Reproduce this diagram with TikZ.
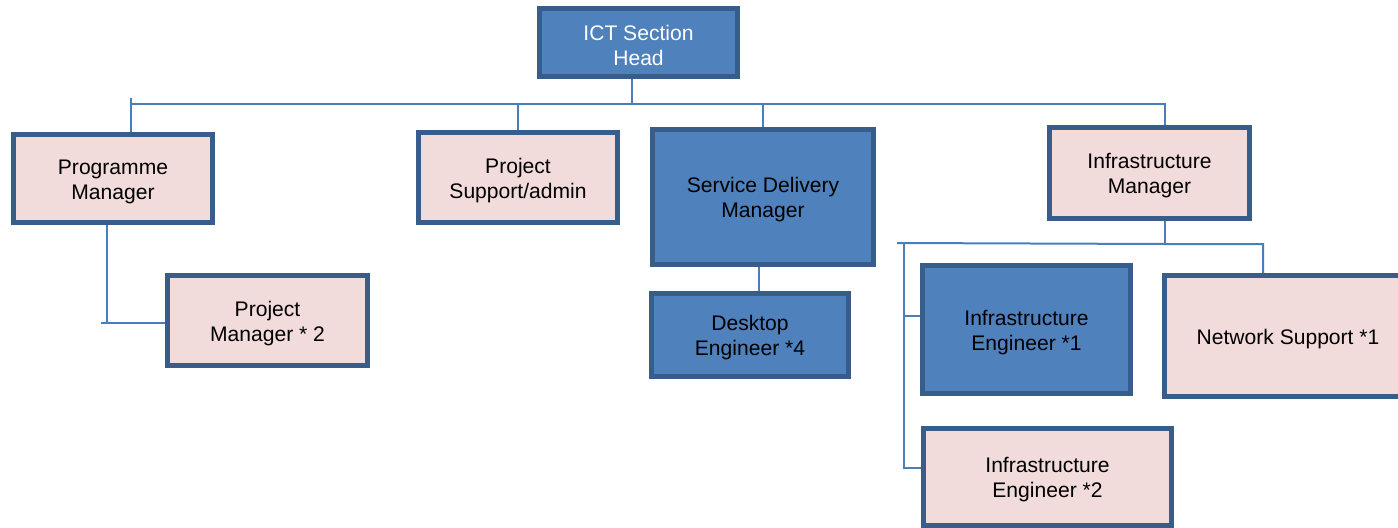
\documentclass[tikz,border=0pt]{standalone}
\usepackage{fontspec}
\setmainfont{Liberation Sans}
\usetikzlibrary{positioning}

\definecolor{boxblue}{HTML}{4F81BD}
\definecolor{boxpink}{HTML}{F2DCDB}
\definecolor{edgeblue}{HTML}{385D8A}
\definecolor{linkblue}{HTML}{4A7EBB}

\begin{document}
\begin{tikzpicture}[
  x=0.02cm, y=-0.02cm,
  font=\fontsize{12pt}{14.2pt}\selectfont,
  unit/.style={draw=edgeblue, line width=0.1cm, align=center, inner sep=2pt, text height=#1},
  unit/.default=26.3pt,
  bluebox/.style={unit=#1, fill=boxblue},
  bluebox/.default=26.3pt,
  pinkbox/.style={unit=#1, fill=boxpink},
  pinkbox/.default=26.3pt,
  link/.style={draw=linkblue, line width=0.04cm}
]
\useasboundingbox (0,0) rectangle (1398,527);
\clip (0,0) rectangle (1398,527);
% top level
\node[bluebox, text=white, minimum width=3.96cm, minimum height=1.36cm] (head) at (638.5,42.5) {ICT Section\\Head};
% second level
\node[pinkbox, minimum width=3.98cm, minimum height=1.76cm] (prog) at (113,178.5) {Programme\\Manager};
\node[pinkbox, minimum width=3.98cm, minimum height=1.80cm] (supp) at (518,177.5) {Project\\Support/admin};
\node[bluebox, minimum width=4.42cm, minimum height=2.70cm] (sdm) at (763,197) {Service Delivery\\Manager};
\node[pinkbox, minimum width=4.00cm, minimum height=1.82cm] (infm) at (1149.5,173) {Infrastructure\\Manager};
% third level
\node[pinkbox, minimum width=4.00cm, minimum height=1.80cm] (pm2) at (267.5,320.5) {Project\\Manager * 2};
\node[bluebox, minimum width=3.94cm, minimum height=1.66cm] (desk) at (750,335) {Desktop\\Engineer *4};
\node[bluebox, minimum width=4.16cm, minimum height=2.56cm] (ie1) at (1026.5,329.5) {Infrastructure\\Engineer *1};
\node[pinkbox=12pt, minimum width=4.94cm, minimum height=2.42cm] (net) at (1288,336) {Network Support *1};
\node[pinkbox, minimum width=4.96cm, minimum height=1.94cm] (ie2) at (1047.5,477) {Infrastructure\\Engineer *2};
% bus coordinates
\coordinate (headJ) at (632,79);
\coordinate (tickA) at (131,98);
\coordinate (busE) at (1165,104);
\coordinate (pmJ) at (107,323);
\coordinate (pmL) at (101,323);
\coordinate (sdmJ) at (759,267);
\coordinate (infL) at (897,243);
\coordinate (infR) at (1263,244);
\coordinate (infV) at (904,468);
\coordinate (ieT) at (904,316);
% connectors
\draw[link] (headJ) -- (headJ |- busE);
\draw[link] (tickA |- busE) -- (busE) -- (busE |- infm.north);
\draw[link] (tickA) -- (tickA |- prog.north);
\draw[link] (supp.north) -- (supp.north |- busE);
\draw[link] (sdm.north) -- (sdm.north |- busE);
\draw[link] (pmJ |- prog.south) -- (pmJ);
\draw[link] (pmL) -- (pm2.west |- pmL);
\draw[link] (sdmJ) -- (sdmJ |- desk.north);
\draw[link] (busE |- infm.south) -- (busE |- infL);
\draw[link] (infL) -- (infR -| busE) -- (infR) -- (infR |- net.north);
\draw[link] (infV |- infL) -- (infV) -- (ie2.west |- infV);
\draw[link] (ieT) -- (ie1.west |- ieT);
\end{tikzpicture}
\end{document}
